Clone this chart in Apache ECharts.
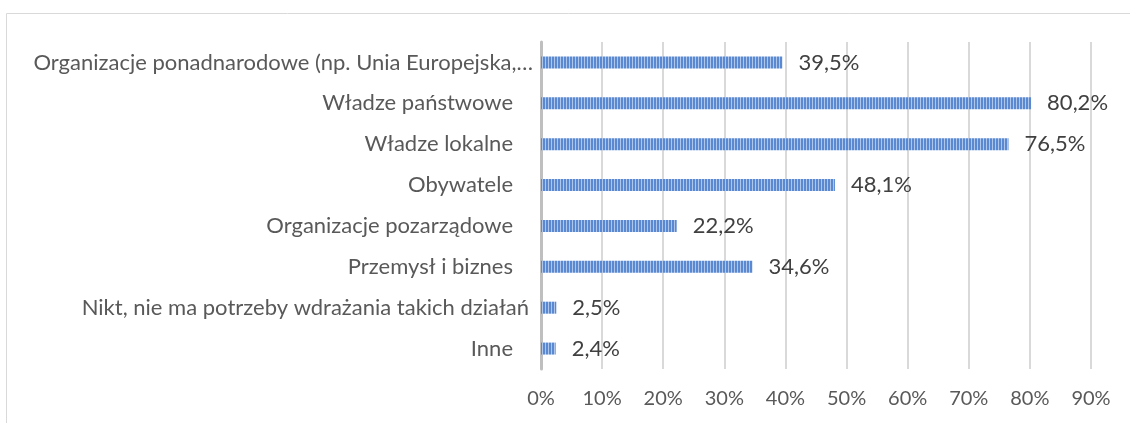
<!DOCTYPE html>
<html lang="pl">
<head>
	<meta charset="UTF-8">
	<title>Wykres</title>
	<style>
		html, body { margin: 0; padding: 0; background: #fff; }
	</style>
</head>
<body>
	<div id="main" style="width: 1130px;height: 423px"></div>
	<script src="https://cdn.jsdelivr.net/npm/echarts@6/dist/echarts.min.js"></script>
	<script>
		var categories = [
			'Organizacje ponadnarodowe (np. Unia Europejska,…',
			'Władze państwowe',
			'Władze lokalne',
			'Obywatele',
			'Organizacje pozarządowe',
			'Przemysł i biznes',
			'Nikt, nie ma potrzeby wdrażania takich działań',
			'Inne'
		];
		var values = [39.5, 80.2, 76.5, 48.1, 22.2, 34.6, 2.5, 2.4];
		var tickLabels = ['0%', '10%', '20%', '30%', '40%', '50%', '60%', '70%', '80%', '90%'];

		// paski w pionowe prążki
		var pat = document.createElement('canvas');
		pat.width = 3; pat.height = 4;
		var ctx = pat.getContext('2d');
		ctx.fillStyle = '#5a89d2';
		ctx.fillRect(0, 0, 3, 4);
		ctx.fillStyle = '#aec6ea';
		ctx.fillRect(2, 0, 1, 4);

		var myChart = echarts.init(document.getElementById('main'));
		var option = {
			animation: false,
			textStyle: { fontFamily: 'Lato' },
			graphic: [{
				type: 'rect',
				shape: { x: 6.5, y: 13.5, width: 1200, height: 500 },
				style: { fill: 'none', stroke: '#d9d9d9', lineWidth: 1 }
			}],
			grid: { left: 541, right: 39, top: 42, bottom: 54 },
			xAxis: {
				type: 'value',
				min: 0,
				max: 90,
				interval: 10,
				axisLine: { show: false },
				axisTick: { show: false },
				splitLine: { lineStyle: { color: '#d9d9d9', width: 2 } },
				axisLabel: {
					color: '#595959',
					fontSize: 20,
					margin: 20,
					formatter: function (v) { return tickLabels[Math.round(v / 10)]; }
				}
			},
			yAxis: {
				type: 'category',
				inverse: true,
				data: categories,
				axisLine: { lineStyle: { color: '#bfbfbf', width: 3 } },
				axisTick: { show: false },
				axisLabel: {
					color: '#595959',
					fontSize: 22,
					margin: 8,
					// dłuższe etykiety wychodzą bliżej osi, jak w oryginale
					formatter: function (v, i) {
						if (i === 0) return '{b|' + v + '}';
						if (i === 6) return '{c|' + v + '}';
						return '{a|' + v + '}';
					},
					rich: {
						a: { fontSize: 22, color: '#595959', padding: [0, 20, 0, 0] },
						b: { fontSize: 22, color: '#595959', padding: [0, 0, 0, 0] },
						c: { fontSize: 22, color: '#595959', padding: [0, 4, 0, 0] }
					}
				}
			},
			series: [{
				type: 'bar',
				data: values,
				barWidth: 12,
				itemStyle: { color: { image: pat, repeat: 'repeat' } },
				label: {
					show: true,
					position: 'right',
					distance: 16,
					color: '#404040',
					fontSize: 22,
					formatter: function (p) { return p.value.toFixed(1).replace('.', ',') + '%'; }
				}
			}]
		};
		myChart.setOption(option);
	</script>
</body>
</html>
